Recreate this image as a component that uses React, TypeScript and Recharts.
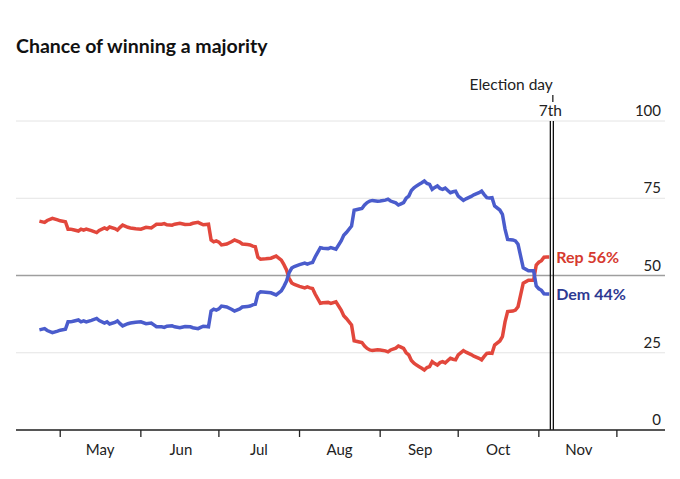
import React from "react";
import {
  LineChart,
  Line,
  XAxis,
  YAxis,
  CartesianGrid,
  ReferenceLine,
  LabelList,
} from "recharts";

// day 0 = May 1st
const days = [
  -8, -6, -5, -3, -1, 0, 2, 3, 4, 5,
  7, 8, 9, 10, 12, 14, 15, 17, 18, 19,
  21, 22, 23, 24, 26, 27, 29, 31, 33, 35,
  36, 37, 39, 40, 41, 43, 44, 46, 48, 50,
  51, 53, 54, 55, 56, 57, 58, 59, 60, 61,
  62, 64, 66, 67, 69, 70, 72, 73, 74, 75,
  76, 77, 79, 81, 83, 85, 86, 87, 88, 89,
  90, 91, 92, 94, 95, 96, 97, 98, 100, 101,
  103, 104, 106, 108, 109, 110, 112, 113, 115, 116,
  117, 118, 119, 120, 122, 123, 125, 126, 127, 129,
  130, 131, 132, 133, 134, 135, 136, 137, 138, 139,
  140, 141, 142, 143, 144, 145, 146, 147, 148, 149,
  150, 151, 152, 153, 155, 156, 157, 158, 159, 161,
  162, 163, 164, 165, 166, 167, 169, 170, 171, 172,
  174, 175, 176, 177, 178, 180, 182, 183, 184, 185,
  186, 187, 188,
];

const rep = [
  67.6, 67.2, 67.8, 68.5, 68.0, 67.7, 67.4, 65.0, 65.0, 64.8,
  64.4, 65.0, 64.7, 65.0, 64.5, 63.9, 64.6, 65.4, 65.0, 65.7,
  65.2, 64.7, 65.6, 66.3, 65.6, 65.4, 65.1, 65.0, 65.6, 65.4,
  66.0, 66.6, 66.6, 66.8, 66.4, 66.3, 66.6, 66.9, 66.5, 66.6,
  66.9, 67.2, 66.8, 66.4, 66.5, 66.6, 61.5, 60.9, 61.2, 60.8,
  59.9, 60.2, 61.0, 61.5, 60.8, 60.2, 60.0, 59.9, 59.5, 59.3,
  55.9, 55.3, 55.4, 55.6, 56.3, 55.0, 53.5, 51.8, 49.1, 47.6,
  47.1, 46.8, 46.5, 46.0, 46.3, 46.0, 45.8, 44.0, 41.0, 41.2,
  41.3, 41.0, 41.5, 38.8, 37.0, 36.1, 34.0, 28.9, 28.5, 28.3,
  27.2, 26.4, 25.9, 25.7, 26.0, 25.9, 25.6, 25.3, 25.9, 26.5,
  27.2, 26.8, 26.4, 25.0, 24.3, 22.5, 21.6, 21.0, 20.5, 20.0,
  19.4, 20.2, 20.5, 22.1, 21.5, 21.0, 21.8, 22.1, 21.7, 22.5,
  23.2, 22.9, 22.7, 24.3, 25.7, 25.2, 24.8, 24.4, 23.9, 23.2,
  22.7, 23.8, 24.8, 24.9, 24.8, 27.5, 28.8, 30.2, 35.0, 38.3,
  38.5, 38.8, 39.9, 43.7, 47.5, 48.5, 48.5, 53.4, 54.3, 54.8,
  55.9, 56.0, 56.0,
];

const dem = [
  32.4, 32.8, 32.2, 31.5, 32.0, 32.3, 32.6, 35.0, 35.0, 35.2,
  35.6, 35.0, 35.3, 35.0, 35.5, 36.1, 35.4, 34.6, 35.0, 34.3,
  34.8, 35.3, 34.4, 33.7, 34.4, 34.6, 34.9, 35.0, 34.4, 34.6,
  34.0, 33.4, 33.4, 33.2, 33.6, 33.7, 33.4, 33.1, 33.5, 33.4,
  33.1, 32.8, 33.2, 33.6, 33.5, 33.4, 38.5, 39.1, 38.8, 39.2,
  40.1, 39.8, 39.0, 38.5, 39.2, 39.8, 40.0, 40.1, 40.5, 40.7,
  44.1, 44.7, 44.6, 44.4, 43.7, 45.0, 46.5, 48.2, 50.9, 52.4,
  52.9, 53.2, 53.5, 54.0, 53.7, 54.0, 54.2, 56.0, 59.0, 58.8,
  58.7, 59.0, 58.5, 61.2, 63.0, 63.9, 66.0, 71.1, 71.5, 71.7,
  72.8, 73.6, 74.1, 74.3, 74.0, 74.1, 74.4, 74.7, 74.1, 73.5,
  72.8, 73.2, 73.6, 75.0, 75.7, 77.5, 78.4, 79.0, 79.5, 80.0,
  80.6, 79.8, 79.5, 77.9, 78.5, 79.0, 78.2, 77.9, 78.3, 77.5,
  76.8, 77.1, 77.3, 75.7, 74.3, 74.8, 75.2, 75.6, 76.1, 76.8,
  77.3, 76.2, 75.2, 75.1, 75.2, 72.5, 71.2, 69.8, 65.0, 61.7,
  61.5, 61.2, 60.1, 56.3, 52.5, 51.5, 51.5, 46.6, 45.7, 45.2,
  44.1, 44.0, 44.0,
];

const monthStarts = [0, 31, 61, 92, 123, 153, 184, 214];
const monthLabels = ["May", "Jun", "Jul", "Aug", "Sep", "Oct", "Nov", ""];
const yTicks = [0, 25, 50, 75, 100];
const electionDay = 189;
const repLabel = "Rep 56%";
const demLabel = "Dem 44%";

const RED = "#e2473c";
const BLUE = "#4a5ccc";
const FONT = "Lato, 'Noto Sans', sans-serif";

const last = days.length - 1;
const data = days.map((d, i) => ({
  day: d,
  rep: rep[i],
  dem: dem[i],
  repTag: i === last ? repLabel : null,
  demTag: i === last ? demLabel : null,
}));

const MonthTick = (props: any) => {
  const { x, y, payload } = props;
  const label = monthLabels[monthStarts.indexOf(payload.value)];
  if (!label) return null;
  return (
    <text x={x + 40} y={y + 18} textAnchor="middle" fontSize={15} fill="#222" fontFamily={FONT}>
      {label}
    </text>
  );
};

const ValueTick = (props: any) => {
  const { x, y, payload } = props;
  return (
    <text x={x - 4} y={y - 5} textAnchor="end" fontSize={15} fill="#222" fontFamily={FONT}>
      {payload.value}
    </text>
  );
};

const endLabel = (color: string) => (props: any) => {
  const { x, y, value } = props;
  if (value == null || value === "") return null;
  return (
    <text x={x + 7} y={y + 6} fontSize={16} fontWeight={700} fill={color} fontFamily={FONT}>
      {value}
    </text>
  );
};

const ElectionLine = (props: any) => {
  const { x1, y1, y2 } = props;
  const top = Math.min(y1, y2);
  const bottom = Math.max(y1, y2);
  return (
    <g>
      <line x1={x1 - 1.5} x2={x1 - 1.5} y1={top} y2={bottom} stroke="#111" strokeWidth={1.3} />
      <line x1={x1 + 1.5} x2={x1 + 1.5} y1={top} y2={bottom} stroke="#111" strokeWidth={1.3} />
      <line x1={x1 + 1} x2={x1 + 1} y1={top - 26} y2={top - 19} stroke="#111" strokeWidth={1.2} />
      <text x={x1 + 1} y={top - 31} textAnchor="end" fontSize={15.5} fill="#222" fontFamily={FONT}>
        Election day
      </text>
      <text x={x1 - 1.5} y={top - 5} textAnchor="middle" fontSize={15.5} fill="#222" fontFamily={FONT}>
        7th
      </text>
    </g>
  );
};

export default function App() {
  return (
    <div style={{ position: "absolute", left: 0, top: 0, width: 680, height: 479, background: "#fff" }}>
      <div
        style={{
          position: "absolute",
          left: 16,
          top: 36,
          fontFamily: FONT,
          fontWeight: 700,
          fontSize: 19.5,
          lineHeight: 1,
          color: "#111",
        }}
      >
        Chance of winning a majority
      </div>
      <LineChart
        width={680}
        height={479}
        data={data}
        margin={{ top: 121, right: 15, left: 16, bottom: 19 }}
      >
        <CartesianGrid vertical={false} stroke="#e4e4e4" strokeWidth={1} />
        <XAxis
          dataKey="day"
          type="number"
          domain={[-17, 232.5]}
          ticks={monthStarts}
          tick={<MonthTick />}
          tickSize={7}
          tickMargin={0}
          height={30}
          interval={0}
          axisLine={{ stroke: "#222", strokeWidth: 1.5 }}
          tickLine={{ stroke: "#222", strokeWidth: 1.3 }}
          allowDataOverflow
        />
        <YAxis
          orientation="right"
          domain={[0, 100]}
          ticks={yTicks}
          width={1}
          mirror
          tickSize={0}
          tickMargin={0}
          axisLine={false}
          tickLine={false}
          tick={<ValueTick />}
          interval={0}
        />
        <ReferenceLine y={50} stroke="#9e9e9e" strokeWidth={1.3} />
        <Line
          dataKey="rep"
          stroke={RED}
          strokeWidth={3.5}
          dot={false}
          isAnimationActive={false}
        >
          <LabelList dataKey="repTag" content={endLabel("#d63a2f")} />
        </Line>
        <Line
          dataKey="dem"
          stroke={BLUE}
          strokeWidth={3.5}
          dot={false}
          isAnimationActive={false}
        >
          <LabelList dataKey="demTag" content={endLabel("#2e3a92")} />
        </Line>
        <ReferenceLine x={electionDay} shape={<ElectionLine />} ifOverflow="visible" />
      </LineChart>
    </div>
  );
}
